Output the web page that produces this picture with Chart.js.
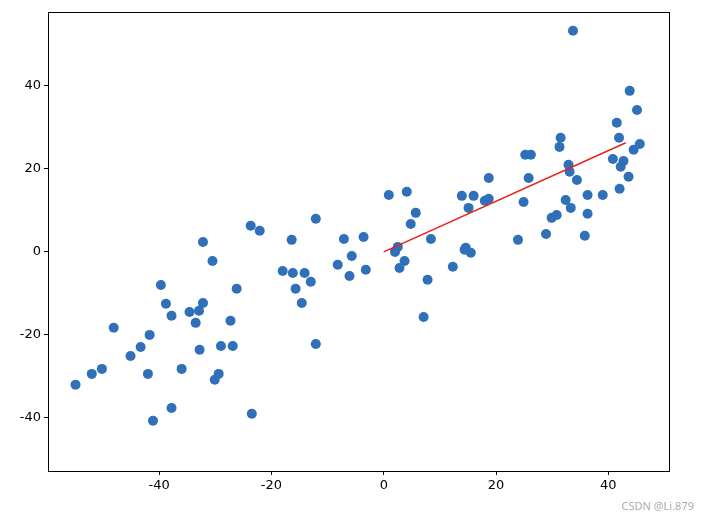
<!DOCTYPE html>
<html><head><meta charset="utf-8">
<script src="https://cdn.jsdelivr.net/npm/chart.js@4"></script>
<style>html,body{margin:0;background:#fff}#wrap{width:704px;height:519px;position:relative}
#wm{position:absolute;right:10px;bottom:6px;font:11px "Noto Sans",sans-serif;color:#aaa}</style>
</head><body><div id="wrap"><canvas id="c"></canvas><div id="wm">CSDN @Li.879</div></div>
<script>
// scatter data
const xs = [-54.9,-52.0,-50.2,-48.1,-45.1,-43.3,-42.0,-41.7,-41.1,-39.7,-38.8,-37.8,-37.8,-36.0,-34.6,-33.5,-32.9,-32.8,-32.2,-32.2,-30.5,-30.1,-29.4,-29.0,-27.3,-26.9,-26.2,-23.7,-23.5,-22.1,-18.0,-16.4,-16.2,-15.7,-14.6,-14.1,-13.0,-12.1,-12.1,-8.2,-7.1,-6.1,-5.7,-3.6,-3.2,0.9,2.0,2.5,2.8,3.7,4.1,4.8,5.7,7.1,7.8,8.4,12.3,13.9,14.4,14.6,15.1,15.5,16.0,18.0,18.7,18.7,23.9,24.9,25.2,25.8,26.2,28.9,29.9,30.8,31.3,31.5,32.4,32.9,33.1,33.3,34.4,35.8,36.3,36.3,39.0,40.8,41.5,41.9,42.0,42.2,42.7,43.6,43.8,44.5,45.1,45.6,33.7];
const ys = [-32.0,-29.4,-28.2,-18.3,-25.1,-22.9,-29.4,-20.0,-40.7,-8.0,-12.5,-15.4,-37.6,-28.2,-14.5,-17.1,-14.2,-23.6,-12.3,2.4,-2.2,-30.8,-29.4,-22.7,-16.6,-22.7,-8.9,6.3,-39.0,5.1,-4.6,2.9,-5.1,-8.9,-12.3,-5.1,-7.2,8.0,-22.2,-3.1,3.1,-5.8,-1.0,3.6,-4.3,13.7,0,1.2,-3.9,-2.2,14.5,6.7,9.4,-15.7,-6.7,3.1,-3.6,13.5,0.5,1.0,10.6,-0.2,13.5,12.3,12.8,17.8,2.9,12.0,23.4,17.8,23.4,4.3,8.2,8.9,25.3,27.5,12.5,21.0,19.3,10.6,17.3,3.9,13.7,9.2,13.7,22.4,31.1,27.5,15.2,20.5,21.9,18.1,38.8,24.6,34.2,26.0,53.3];
const fitX = [0, 43.1];
const fitY = [0, 26.3];
const tickVals = [-40, -20, 0, 20, 40];

const frame = {
  id: 'frame',
  afterDraw(ch) {
    const a = ch.chartArea, g = ch.ctx;
    g.save(); g.strokeStyle = '#000'; g.lineWidth = 1;
    g.strokeRect(a.left + 0.5, a.top + 0.5, a.right - a.left, a.bottom - a.top);
    g.restore();
  }
};
const axis = (min, max, pos) => ({
  type: 'linear', position: pos, min, max,
  afterBuildTicks: s => { s.ticks = tickVals.map(v => ({ value: v })); },
  grid: { drawOnChartArea: false, drawTicks: true, tickLength: 4, color: '#000' },
  border: { display: false },
  ticks: { color: '#000', font: { family: 'DejaVu Sans', size: 13 }, padding: 3 },
  afterFit: s => { if (pos === 'left') s.width = 48; else s.height = 48; }
});

new Chart(document.getElementById('c'), {
  type: 'scatter',
  data: { datasets: [
    { data: xs.map((x, i) => ({ x, y: ys[i] })), backgroundColor: '#3070b8', borderColor: '#3070b8', pointRadius: 5, borderWidth: 0, order: 2 },
    { type: 'line', data: fitX.map((x, i) => ({ x, y: fitY[i] })), borderColor: '#e8211b', borderWidth: 1.5, pointRadius: 0, order: 1 }
  ]},
  options: {
    responsive: true, maintainAspectRatio: false, animation: false,
    layout: { padding: { top: 12, right: 35, left: 0, bottom: 0 } },
    plugins: { legend: { display: false }, tooltip: { enabled: false } },
    scales: { x: axis(-59.8, 50.8, 'bottom'), y: axis(-52.8, 57.8, 'left') }
  },
  plugins: [frame]
});
</script></body></html>
